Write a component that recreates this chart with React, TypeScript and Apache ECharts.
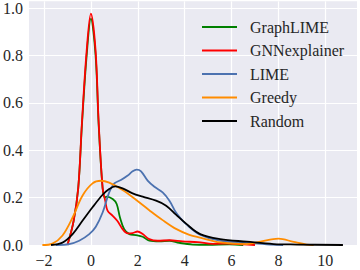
import React, { useEffect, useRef } from "react";
import * as echarts from "echarts";

const seriesNames = ["GraphLIME", "GNNexplainer", "LIME", "Greedy", "Random"];
const seriesColors = ["#008000", "#FF0000", "#4C72B0", "#FF8C00", "#000000"];

const graphLimeX = [-1.0, -0.74, -0.54, -0.38, -0.18, 0, 0.2, 0.33, 0.5, 0.6, 0.67, 0.93, 1.1, 1.24, 1.42, 1.64, 1.92, 2.21, 2.49, 2.92, 3.35, 3.77, 4.34, 5.0, 5.9, 6.5];
const graphLimeY = [0, 0.1, 0.24, 0.51, 0.8, 0.955, 0.8, 0.51, 0.24, 0.2, 0.204, 0.194, 0.173, 0.116, 0.067, 0.046, 0.042, 0.035, 0.018, 0.015, 0.018, 0.009, 0.002, 0.001, 0.003, 0];

const gnnX = [-1.0, -0.74, -0.54, -0.38, -0.18, 0, 0.2, 0.33, 0.5, 0.61, 0.71, 0.93, 1.14, 1.35, 1.57, 1.78, 1.99, 2.21, 2.49, 2.85, 3.35, 3.92, 4.56, 5.2, 5.9, 6.5, 7.0];
const gnnY = [0, 0.1, 0.24, 0.52, 0.82, 0.976, 0.82, 0.52, 0.24, 0.187, 0.145, 0.123, 0.1, 0.067, 0.049, 0.05, 0.057, 0.046, 0.025, 0.018, 0.02, 0.015, 0.012, 0.005, 0.006, 0.003, 0];

const limeX = [-1.5, -0.93, -0.5, -0.07, 0.21, 0.5, 0.78, 1.0, 1.28, 1.57, 1.78, 1.95, 2.14, 2.42, 2.71, 3.06, 3.35, 3.63, 3.85, 4.06, 4.63, 5.5, 6.65, 7.5, 8.2];
const limeY = [0, 0.004, 0.018, 0.046, 0.077, 0.137, 0.222, 0.26, 0.274, 0.293, 0.311, 0.318, 0.311, 0.272, 0.246, 0.222, 0.187, 0.137, 0.11, 0.088, 0.045, 0.018, 0.01, 0.003, 0];

const greedyX = [-2.07, -1.64, -1.21, -0.78, -0.36, 0.07, 0.43, 0.78, 1.35, 1.92, 2.49, 3.06, 3.63, 4.2, 4.66, 5.51, 6.65, 7.22, 8.0, 8.65, 9.2, 9.5];
const greedyY = [0, 0.006, 0.04, 0.116, 0.208, 0.26, 0.271, 0.263, 0.232, 0.191, 0.147, 0.105, 0.068, 0.043, 0.031, 0.011, 0.004, 0.014, 0.027, 0.013, 0.002, 0];

const randomX = [-1.7, -1.21, -0.78, -0.36, 0.07, 0.5, 0.78, 1.04, 1.35, 1.78, 2.21, 2.78, 3.21, 3.63, 4.06, 4.66, 5.51, 6.65, 7.79, 8.8, 10.75];
const randomY = [0, 0.01, 0.046, 0.102, 0.159, 0.212, 0.236, 0.247, 0.239, 0.218, 0.204, 0.187, 0.166, 0.128, 0.09, 0.046, 0.025, 0.014, 0.004, 0.002, 0];

const xTicks = [-2, 0, 2, 4, 6, 8, 10];
const yTicks = [0, 0.2, 0.4, 0.6, 0.8, 1.0];

const allX = [graphLimeX, gnnX, limeX, greedyX, randomX];
const allY = [graphLimeY, gnnY, limeY, greedyY, randomY];

const FONT = "serif";
const richStyle = { s: { fontFamily: FONT, fontSize: 16, color: "#262626" } };

export default function App() {
  const ref = useRef<HTMLDivElement>(null);
  useEffect(() => {
    if (!ref.current) return;
    const chart = echarts.init(ref.current, undefined, { renderer: "svg" });
    const series = seriesNames.map((name, i) => ({
      name,
      type: "line",
      data: allX[i].map((x, j) => [x, allY[i][j]]),
      smooth: 0.35,
      symbol: "none",
      showSymbol: false,
      lineStyle: { color: seriesColors[i], width: 1.8 },
      itemStyle: { color: seriesColors[i] },
    }));
    chart.setOption({
      animation: false,
      backgroundColor: "#ffffff",
      textStyle: { fontFamily: FONT, fontSize: 16 },
      grid: {
        left: 29,
        right: 3,
        top: 1,
        bottom: 25,
        show: true,
        backgroundColor: "#EAEAF2",
        borderWidth: 0,
      },
      legend: {
        orient: "vertical",
        left: 197,
        top: 14,
        icon: "rect",
        itemWidth: 35,
        itemHeight: 2,
        itemGap: 7.5,
        data: seriesNames,
        formatter: (name: string) => "{s|" + name + "}",
        textStyle: {
          fontFamily: FONT,
          fontSize: 16,
          color: "#262626",
          padding: [0, 0, 0, 8],
          rich: richStyle,
        },
      },
      xAxis: {
        type: "value",
        min: -2.64,
        max: 11.35,
        axisLine: { show: false },
        axisTick: { show: false, customValues: xTicks },
        axisLabel: {
          customValues: xTicks,
          fontFamily: FONT,
          fontSize: 16,
          color: "#262626",
          margin: 7,
          rich: richStyle,
          formatter: (v: number) => "{s|" + String(v).replace("-", "\u2212") + "}",
        },
        splitLine: { show: true, lineStyle: { color: "#ffffff", width: 1.2 } },
      },
      yAxis: {
        type: "value",
        min: 0,
        max: 1.028,
        axisLine: { show: false },
        axisTick: { show: false, customValues: yTicks },
        axisLabel: {
          customValues: yTicks,
          fontFamily: FONT,
          fontSize: 16,
          color: "#262626",
          margin: 6,
          rich: richStyle,
          formatter: (v: number) => "{s|" + v.toFixed(1) + "}",
        },
        splitLine: { show: true, lineStyle: { color: "#ffffff", width: 1.2 } },
      },
      series,
    });
    return () => chart.dispose();
  }, []);
  return <div ref={ref} style={{ width: 360, height: 270, position: "fixed", left: 0, top: 0 }} />;
}
